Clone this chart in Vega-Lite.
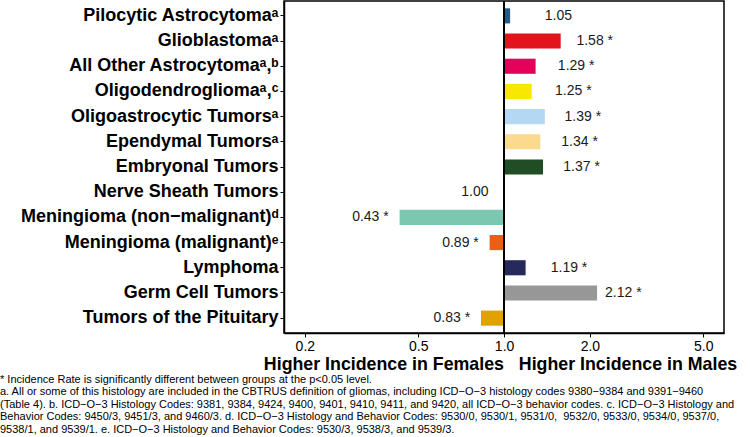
{
  "$schema": "https://vega.github.io/schema/vega-lite/v6.json",
  "width": 440,
  "height": 332,
  "autosize": {"type": "none"},
  "padding": {"left": 284, "top": 1, "right": 26, "bottom": 104},
  "background": "white",
  "config": {
    "font": "Liberation Sans",
    "view": {"stroke": "black", "strokeWidth": 1.5},
    "axis": {"grid": false, "domainColor": "black", "tickColor": "black", "labelColor": "black", "titleColor": "black"}
  },
  "title": {
    "text": [
      "* Incidence Rate is significantly different between groups at the p<0.05 level.",
      "\u00a0a. All or some of this histology are included in the CBTRUS definition of gliomas, including ICD−O−3 histology codes 9380−9384 and 9391−9460",
      "(Table 4). b. ICD−O−3 Histology Codes: 9381, 9384, 9424, 9400, 9401, 9410, 9411, and 9420, all ICD−O−3 behavior codes. c. ICD−O−3 Histology and",
      "Behavior Codes: 9450/3, 9451/3, and 9460/3. d. ICD−O−3 Histology and Behavior Codes: 9530/0, 9530/1, 9531/0,\u00a0 9532/0, 9533/0, 9534/0, 9537/0,",
      "9538/1, and 9539/1. e. ICD−O−3 Histology and Behavior Codes: 9530/3, 9538/3, and 9539/3."
    ],
    "orient": "bottom",
    "anchor": "start",
    "frame": "group",
    "dx": -284,
    "offset": 1,
    "font": "Liberation Sans",
    "fontSize": 11,
    "fontWeight": "normal",
    "lineHeight": 12.5,
    "color": "black"
  },
  "data": {
    "values": [
      {"name": "Pilocytic Astrocytomaᵃ", "ratio": 1.05, "lab": "1.05"},
      {"name": "Glioblastomaᵃ", "ratio": 1.58, "lab": "1.58 *"},
      {"name": "All Other Astrocytomaᵃ,ᵇ", "ratio": 1.29, "lab": "1.29 *"},
      {"name": "Oligodendrogliomaᵃ,ᶜ", "ratio": 1.25, "lab": "1.25 *"},
      {"name": "Oligoastrocytic Tumorsᵃ", "ratio": 1.39, "lab": "1.39 *"},
      {"name": "Ependymal Tumorsᵃ", "ratio": 1.34, "lab": "1.34 *"},
      {"name": "Embryonal Tumors", "ratio": 1.37, "lab": "1.37 *"},
      {"name": "Nerve Sheath Tumors", "ratio": 1.0, "lab": "1.00"},
      {"name": "Meningioma (non−malignant)ᵈ", "ratio": 0.43, "lab": "0.43 *"},
      {"name": "Meningioma (malignant)ᵉ", "ratio": 0.89, "lab": "0.89 *"},
      {"name": "Lymphoma", "ratio": 1.19, "lab": "1.19 *"},
      {"name": "Germ Cell Tumors", "ratio": 2.12, "lab": "2.12 *"},
      {"name": "Tumors of the Pituitary", "ratio": 0.83, "lab": "0.83 *"}
    ]
  },
  "layer": [
    {
      "mark": {"type": "bar"},
      "encoding": {
        "y": {
          "field": "name",
          "type": "nominal",
          "sort": null,
          "scale": {"paddingInner": 0.4, "paddingOuter": 0.29},
          "axis": {"title": null, "labelFontSize": 18, "labelFontWeight": "bold", "labelPadding": 2, "labelLimit": 0, "tickSize": 4, "domainWidth": 1.5}
        },
        "x": {
          "field": "ratio",
          "type": "quantitative",
          "scale": {"type": "log", "domain": [0.169, 5.91], "nice": false},
          "axis": {
            "values": [0.2, 0.5, 1, 2, 5],
            "format": ".1f",
            "labelFontSize": 14,
            "labelPadding": 2,
            "tickSize": 4,
            "domainWidth": 1.5,
            "title": "Higher Incidence in Females\u00a0\u00a0\u00a0Higher Incidence in Males",
            "titleFontSize": 17.8,
            "titleFontWeight": "bold",
            "titleX": 216,
            "titleY": 31,
            "titleAlign": "center",
            "titleBaseline": "middle"
          }
        },
        "x2": {"datum": 1},
        "color": {
          "field": "name",
          "type": "nominal",
          "legend": null,
          "scale": {
            "domain": ["Pilocytic Astrocytomaᵃ", "Glioblastomaᵃ", "All Other Astrocytomaᵃ,ᵇ", "Oligodendrogliomaᵃ,ᶜ", "Oligoastrocytic Tumorsᵃ", "Ependymal Tumorsᵃ", "Embryonal Tumors", "Nerve Sheath Tumors", "Meningioma (non−malignant)ᵈ", "Meningioma (malignant)ᵉ", "Lymphoma", "Germ Cell Tumors", "Tumors of the Pituitary"],
            "range": ["#155e96", "#e3131b", "#e5005a", "#f8e800", "#b3d8f3", "#fbd98d", "#214d26", "#999999", "#7bc7b0", "#ee5d10", "#252a5a", "#979797", "#e0a200"]
          }
        }
      }
    },
    {
      "transform": [{"calculate": "datum.ratio > 1 ? datum.ratio + 0.5 : datum.ratio * 0.79", "as": "lx"}],
      "mark": {"type": "text", "fontSize": 14, "align": "center", "baseline": "middle", "color": "#1a1a1a"},
      "encoding": {
        "y": {"field": "name", "type": "nominal", "sort": null},
        "x": {"field": "lx", "type": "quantitative"},
        "text": {"field": "lab"}
      }
    },
    {
      "mark": {"type": "rule", "color": "black", "strokeWidth": 1.5},
      "encoding": {"x": {"datum": 1}}
    }
  ]
}
